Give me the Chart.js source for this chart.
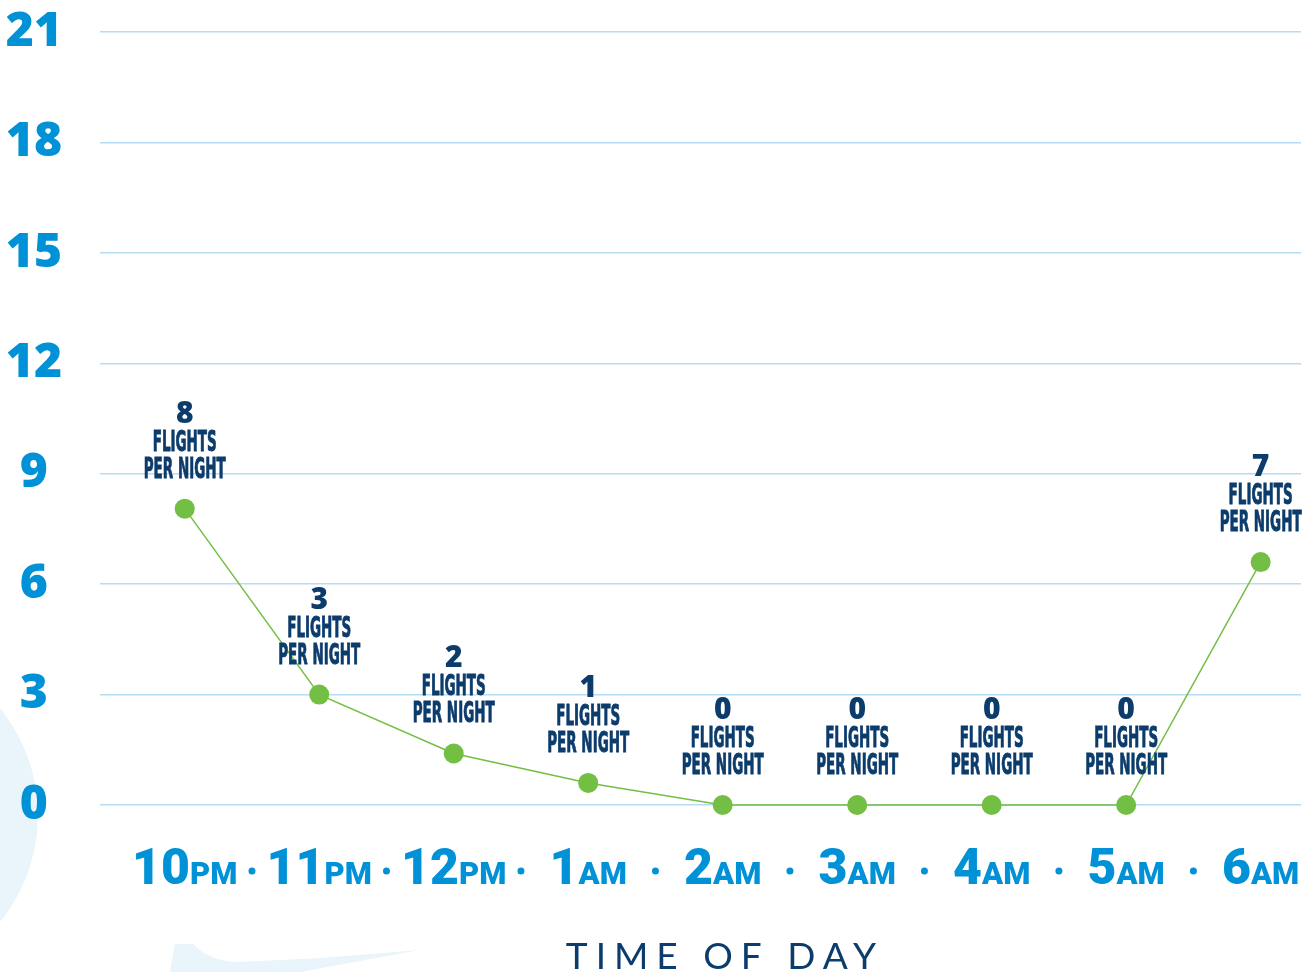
<!DOCTYPE html>
<html>
<head>
<meta charset="utf-8">
<script src="https://cdn.jsdelivr.net/npm/chart.js@4"></script>
<style>
  html, body { margin: 0; padding: 0; background: #fff; }
  #wrap { width: 1311px; height: 972px; }
</style>
</head>
<body>
<div id="wrap"><canvas id="flightsChart"></canvas></div>
<script>
// hours along the bottom, split into the big number and the small AM/PM part
const hours = ["10", "11", "12", "1", "2", "3", "4", "5", "6"];
const periods = ["PM", "PM", "PM", "AM", "AM", "AM", "AM", "AM", "AM"];
// plotted values
const flights = [8.05, 3.0, 1.4, 0.6, 0, 0, 0, 0, 6.6];
// the numbers written above each point
const flightLabels = ["8", "3", "2", "1", "0", "0", "0", "0", "7"];
const yTickValues = [0, 3, 6, 9, 12, 15, 18, 21];
const axisTitle = "TIME OF DAY";

const blue = "#0091d7";
const navy = "#0c3c6c";
const green = "#72bf44";
const heavy = "'Open Sans', Lato, sans-serif";
const heavy2 = "Roboto, Lato, sans-serif";
const narrow = "bold 29px 'Liberation Sans Narrow', 'DejaVu Sans Condensed', sans-serif";

// light shapes in the background
const backdrop = {
  id: "backdrop",
  beforeDraw(chart) {
    const ctx = chart.ctx;
    ctx.save();
    ctx.fillStyle = "#eaf4fb";
    ctx.beginPath();
    ctx.arc(-131, 815, 169, 0, Math.PI * 2);
    ctx.fill();
    ctx.beginPath();
    ctx.moveTo(175, 944);
    ctx.lineTo(193, 944);
    ctx.quadraticCurveTo(210, 962, 240, 962);
    ctx.lineTo(320, 958);
    ctx.lineTo(420, 950);
    ctx.lineTo(300, 972);
    ctx.lineTo(170, 972);
    ctx.closePath();
    ctx.fill();
    ctx.restore();
  }
};

// "8 / FLIGHTS / PER NIGHT" above each point
const pointLabels = {
  id: "pointLabels",
  afterDatasetsDraw(chart) {
    const ctx = chart.ctx;
    const pts = chart.getDatasetMeta(0).data;
    ctx.save();
    ctx.fillStyle = navy;
    ctx.strokeStyle = navy;
    ctx.lineWidth = 0.9;
    ctx.textAlign = "center";
    ctx.textBaseline = "alphabetic";
    ctx.font = narrow;
    const squeeze = 82 / ctx.measureText("PER NIGHT").width;
    pts.forEach((p, i) => {
      ctx.font = "800 30px " + heavy;
      ctx.fillText(flightLabels[i], p.x, p.y - 86);
      ctx.font = narrow;
      [["FLIGHTS", 58], ["PER NIGHT", 31]].forEach(([t, dy]) => {
        ctx.save();
        ctx.translate(p.x, p.y - dy);
        ctx.scale(squeeze, 1);
        ctx.fillText(t, 0, 0);
        ctx.strokeText(t, 0, 0);
        ctx.restore();
      });
    });
    ctx.restore();
  }
};

// hour labels with the dots between them, plus the axis title
const hourAxis = {
  id: "hourAxis",
  afterDraw(chart) {
    const ctx = chart.ctx;
    const xs = chart.scales.x;
    const big = "900 50px " + heavy2;
    const small = "900 31px " + heavy2;
    const baseY = 884;
    ctx.save();
    ctx.fillStyle = blue;
    ctx.textBaseline = "alphabetic";
    ctx.textAlign = "left";
    const px = hours.map((_, i) => xs.getPixelForValue(i));
    hours.forEach((h, i) => {
      ctx.font = big;
      const w1 = ctx.measureText(h).width;
      ctx.font = small;
      const w2 = ctx.measureText(periods[i]).width;
      const x0 = px[i] - (w1 + w2) / 2;
      ctx.font = big;
      ctx.fillText(h, x0, baseY);
      ctx.font = small;
      ctx.fillText(periods[i], x0 + w1, baseY);
      if (i > 0) {
        ctx.beginPath();
        ctx.arc((px[i] + px[i - 1]) / 2, 871, 3.5, 0, Math.PI * 2);
        ctx.fill();
      }
    });
    ctx.fillStyle = navy;
    ctx.font = "400 37px Lato, 'Open Sans', sans-serif";
    ctx.letterSpacing = "8px";
    ctx.textAlign = "left";
    const tw = ctx.measureText(axisTitle).width - 8;
    ctx.fillText(axisTitle, 721 - tw / 2, 969);
    ctx.restore();
  }
};

new Chart(document.getElementById("flightsChart"), {
  type: "line",
  data: {
    datasets: [
      {
        data: flights.map((v, i) => ({ x: i, y: v })),
        borderColor: green,
        borderWidth: 1.5,
        backgroundColor: green,
        pointBackgroundColor: green,
        pointBorderWidth: 0,
        pointRadius: 10,
        tension: 0,
        clip: false,
      },
    ],
  },
  options: {
    responsive: true,
    maintainAspectRatio: false,
    animation: false,
    layout: { padding: { top: 32, right: 6, bottom: 167, left: 0 } },
    plugins: { legend: { display: false }, tooltip: { enabled: false } },
    scales: {
      x: {
        type: "linear",
        display: false,
        min: -0.63,
        max: 8.3,
      },
      y: {
        min: 0,
        max: 21,
        afterBuildTicks: (scale) => {
          scale.ticks = yTickValues.map((v) => ({ value: v }));
        },
        afterFit: (scale) => {
          scale.width = 100;
          scale.paddingTop = 0;
          scale.paddingBottom = 0;
        },
        border: { display: false },
        grid: { color: "#b5dcf2", lineWidth: 1.5, drawTicks: false },
        ticks: {
          color: blue,
          crossAlign: "center",
          padding: 38,
          font: { family: heavy, size: 48, weight: "800" },
        },
      },
    },
  },
  plugins: [backdrop, pointLabels, hourAxis],
});
</script>
</body>
</html>
